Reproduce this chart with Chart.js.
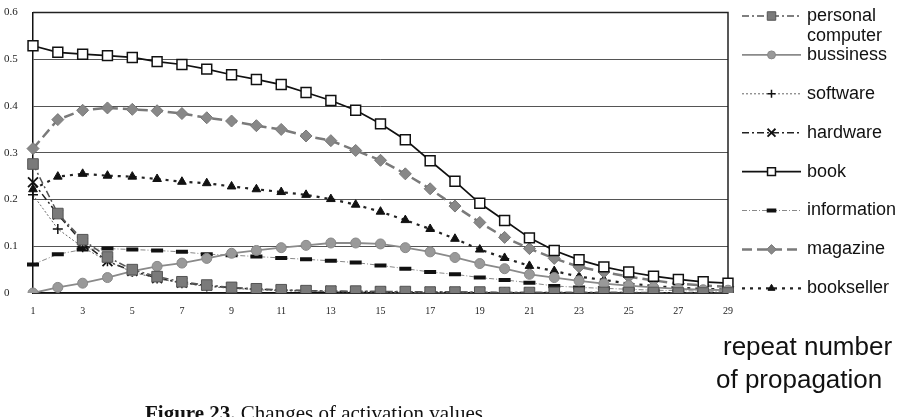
<!DOCTYPE html>
<html>
<head>
<meta charset="utf-8">
<script src="https://cdn.jsdelivr.net/npm/chart.js@4/dist/chart.umd.min.js"></script>
<style>
  html, body { margin: 0; padding: 0; background: #fff; }
  #wrap { position: relative; width: 906px; height: 417px; overflow: hidden; background: #fff; }
  #c { position: absolute; left: 0; top: 0; }
  .axt { position: absolute; font-family: "Liberation Sans", Arial, sans-serif; font-size: 26px; color: #111; white-space: nowrap; line-height: 26px; }
  #cap { position: absolute; left: 145px; top: 403px; font-family: "Liberation Serif", "Times New Roman", serif; font-size: 21px; line-height: 21px; color: #111; white-space: nowrap; }
</style>
</head>
<body>
<div id="wrap">
  <canvas id="c" width="906" height="417"></canvas>
  <div class="axt" id="ax1" style="left:723px; top:333px;">repeat number</div>
  <div class="axt" id="ax2" style="left:716px; top:366px;">of propagation</div>
  <div id="cap"><b>Figure 23.</b> Changes of activation values</div>
</div>
<script>
const categories = ["1","2","3","4","5","6","7","8","9","10","11","12","13","14","15","16","17","18","19","20","21","22","23","24","25","26","27","28","29"];
const yTicks = [0, 0.1, 0.2, 0.3, 0.4, 0.5, 0.6];

const personalComputer = [0.276,0.170,0.114,0.077,0.050,0.035,0.024,0.017,0.012,0.009,0.007,0.005,0.004,0.004,0.003,0.003,0.002,0.002,0.002,0.001,0.001,0.001,0.001,0.001,0.001,0.001,0.000,0.000,0.000];
const bussiness = [0.000,0.012,0.021,0.033,0.047,0.057,0.064,0.074,0.085,0.091,0.097,0.102,0.107,0.107,0.105,0.097,0.088,0.076,0.063,0.052,0.040,0.033,0.026,0.020,0.016,0.012,0.009,0.007,0.006];
const software = [0.210,0.137,0.098,0.068,0.045,0.031,0.021,0.014,0.010,0.007,0.005,0.004,0.003,0.002,0.002,0.001,0.001,0.001,0.001,0.001,0.000,0.000,0.000,0.000,0.000,0.000,0.000,0.000,0.000];
const hardware = [0.237,0.168,0.108,0.068,0.047,0.032,0.022,0.016,0.011,0.008,0.006,0.005,0.004,0.003,0.003,0.002,0.002,0.002,0.001,0.001,0.001,0.001,0.001,0.001,0.001,0.000,0.000,0.000,0.000];
const book = [0.529,0.515,0.511,0.508,0.504,0.495,0.489,0.479,0.467,0.457,0.446,0.429,0.412,0.391,0.362,0.328,0.283,0.239,0.192,0.155,0.118,0.091,0.071,0.056,0.045,0.036,0.029,0.024,0.021];
const information = [0.061,0.083,0.093,0.095,0.093,0.091,0.088,0.083,0.081,0.078,0.075,0.072,0.069,0.065,0.059,0.052,0.045,0.040,0.033,0.028,0.022,0.015,0.012,0.010,0.008,0.006,0.005,0.004,0.003];
const magazine = [0.309,0.371,0.391,0.396,0.393,0.390,0.384,0.375,0.368,0.358,0.350,0.336,0.326,0.305,0.284,0.255,0.223,0.186,0.151,0.119,0.095,0.074,0.056,0.045,0.035,0.027,0.020,0.016,0.013];
const bookseller = [0.222,0.249,0.255,0.251,0.249,0.244,0.238,0.235,0.228,0.222,0.216,0.210,0.201,0.189,0.174,0.156,0.137,0.116,0.093,0.075,0.058,0.047,0.035,0.028,0.020,0.015,0.011,0.009,0.007];

const seriesNames = [["personal", "computer"], ["bussiness"], ["software"], ["hardware"], ["book"], ["information"], ["magazine"], ["bookseller"]];

function ds(label, data, o) {
  return Object.assign({
    label: label, data: data, tension: 0, fill: false,
    borderWidth: 1.5, pointBorderWidth: 1, pointHoverRadius: 0
  }, o);
}

const datasets = [
  ds("personal computer", personalComputer, { borderColor: "#555", borderDash: [7,3,2,3], pointStyle: "rect", pointRadius: 7.5, pointBackgroundColor: "#7a7a7a", pointBorderColor: "#555" }),
  ds("bussiness", bussiness, { borderColor: "#8a8a8a", borderWidth: 1.8, pointStyle: "circle", pointRadius: 5, pointBackgroundColor: "#999", pointBorderColor: "#888" }),
  ds("software", software, { borderColor: "#666", borderWidth: 1, borderDash: [2,2], pointStyle: "cross", pointRadius: 5, pointBorderColor: "#111", pointBorderWidth: 1.5, pointBackgroundColor: "#111" }),
  ds("hardware", hardware, { borderColor: "#222", borderDash: [7,3,2,3], pointStyle: "crossRot", pointRadius: 7, pointBorderColor: "#111", pointBorderWidth: 1.8, pointBackgroundColor: "#111" }),
  ds("book", book, { borderColor: "#111", borderWidth: 1.7, pointStyle: "rect", pointRadius: 7, pointBackgroundColor: "#fff", pointBorderColor: "#111", pointBorderWidth: 1.5 }),
  ds("information", information, { borderColor: "#888", borderWidth: 1, borderDash: [5,2,1,2], pointStyle: "line", pointRadius: 6, pointBorderColor: "#111", pointBorderWidth: 4, pointBackgroundColor: "#111" }),
  ds("magazine", magazine, { borderColor: "#7a7a7a", borderWidth: 2.5, borderDash: [10,5], pointStyle: "rectRot", pointRadius: 6, pointBackgroundColor: "#888", pointBorderColor: "#777" }),
  ds("bookseller", bookseller, { borderColor: "#222", borderWidth: 2.2, borderDash: [3,5], pointStyle: "triangle", pointRadius: 5, pointBackgroundColor: "#111", pointBorderColor: "#111" })
];

const frame = {
  id: "frame",
  beforeDatasetsDraw(chart) {
    const a = chart.chartArea, ctx = chart.ctx;
    ctx.save();
    ctx.strokeStyle = "#222"; ctx.lineWidth = 1.5;
    ctx.beginPath();
    ctx.moveTo(a.left, a.top); ctx.lineTo(a.right, a.top); ctx.lineTo(a.right, a.bottom);
    ctx.stroke();
    ctx.restore();
  }
};

const sideLegend = {
  id: "sideLegend",
  afterDraw(chart) {
    const ctx = chart.ctx;
    const x0 = 742, x1 = 801, tx = 807, y0 = 16, step = 38.9;
    chart.data.datasets.forEach((d, i) => {
      const y = y0 + i * step;
      ctx.save();
      ctx.strokeStyle = d.borderColor; ctx.lineWidth = d.borderWidth;
      ctx.setLineDash(d.borderDash || []);
      ctx.beginPath(); ctx.moveTo(x0, y); ctx.lineTo(x1, y); ctx.stroke();
      ctx.setLineDash([]);
      ctx.fillStyle = d.pointBackgroundColor; ctx.strokeStyle = d.pointBorderColor;
      ctx.lineWidth = d.pointBorderWidth;
      Chart.helpers.drawPoint(ctx, { pointStyle: d.pointStyle, radius: d.pointRadius * 0.8, borderWidth: d.pointBorderWidth, rotation: 0 }, (x0 + x1) / 2, y);
      ctx.fillStyle = "#111";
      ctx.font = "18px 'Liberation Sans', Arial, sans-serif";
      ctx.textBaseline = "middle"; ctx.textAlign = "left";
      const lines = seriesNames[i];
      lines.forEach((t, k) => ctx.fillText(t, tx, y + k * 20));
      ctx.restore();
    });
  }
};

new Chart(document.getElementById("c"), {
  type: "line",
  data: { labels: categories, datasets: datasets },
  options: {
    responsive: false,
    animation: false,
    events: [],
    layout: { padding: { top: 10, right: 178, bottom: 94, left: 4 } },
    plugins: { legend: { display: false }, tooltip: { enabled: false } },
    scales: {
      x: {
        offset: false,
        afterFit(s) { s.height = 30; },
        grid: { display: false, drawTicks: false },
        border: { color: "#111", width: 1.5 },
        ticks: {
          autoSkip: false, maxRotation: 0, padding: 12, color: "#222",
          font: { family: "'Liberation Serif', 'DejaVu Serif', serif", size: 10 },
          callback: (v, i) => (i % 2 === 0 ? categories[i] : "")
        }
      },
      y: {
        min: 0, max: 0.6,
        afterFit(s) { s.width = 29; },
        afterBuildTicks(s) { s.ticks = yTicks.map(v => ({ value: v })); },
        grid: { color: "#555", lineWidth: 1, drawTicks: false },
        border: { color: "#111", width: 1.5 },
        ticks: {
          crossAlign: "far", padding: 6, color: "#222",
          font: { family: "'Liberation Serif', 'DejaVu Serif', serif", size: 11 },
          callback: v => String(v)
        }
      }
    }
  },
  plugins: [frame, sideLegend]
});
</script>
</body>
</html>
